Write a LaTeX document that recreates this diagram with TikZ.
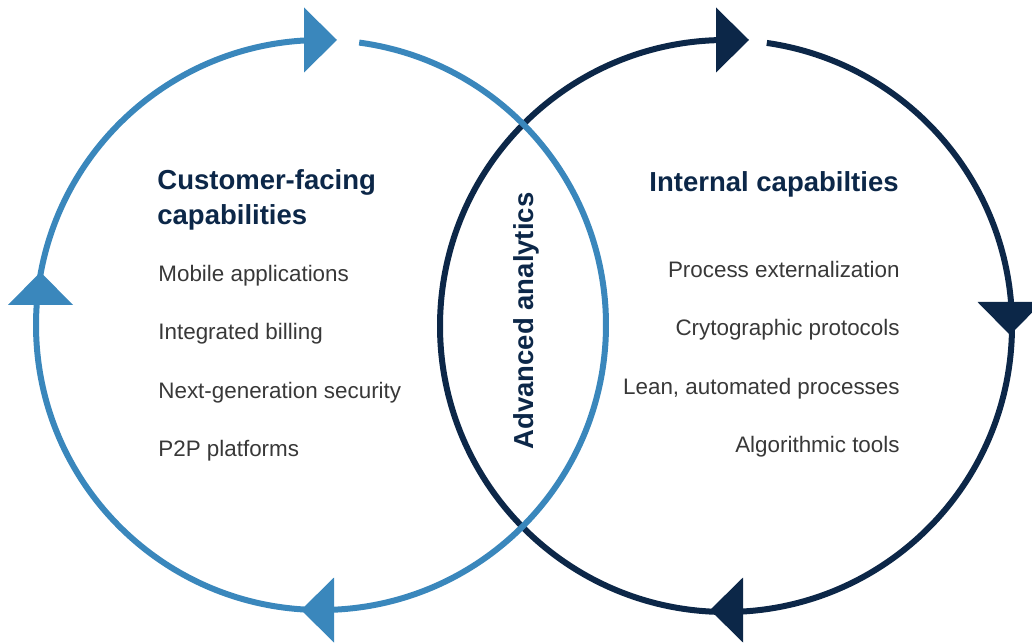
\documentclass[tikz,border=0pt]{standalone}
\usepackage{fontspec}
\setmainfont{Liberation Sans}

\definecolor{capblue}{HTML}{3A87BC}
\definecolor{capnavy}{HTML}{0C2748}
\definecolor{captext}{HTML}{383838}

\tikzset{
  flowtip/.pic={\fill (0,32.5) -- (33,0) -- (0,-32.5) -- cycle;},
  head/.style={font=\fontsize{13.75}{17.5}\selectfont\bfseries, text=capnavy, inner sep=0pt},
  item/.style={font=\fontsize{11.2}{13}\selectfont, text=captext, inner sep=0pt},
}

\begin{document}
\begin{tikzpicture}[x=0.5pt, y=0.5pt]
    \useasboundingbox (0,0) rectangle (1032,643);

    % Внутренний цикл
    \draw[capnavy, line width=3pt] (726,317) ++(88.5:286) arc[start angle=88.5, end angle=441.8, radius=286];

    % Клиентский цикл
    \draw[capblue, line width=3pt] (321,318) ++(89.5:285) arc[start angle=89.5, end angle=442.3, radius=285];

    % Стрелки
    \pic[capblue] at (304,603) {flowtip};
    \pic[capblue, rotate=90] at (40.5,338) {flowtip};
    \pic[capblue, rotate=180] at (334,33) {flowtip};
    \pic[capnavy] at (716,603) {flowtip};
    \pic[capnavy, rotate=-90] at (1010,341) {flowtip};
    \pic[capnavy, rotate=180] at (743,33) {flowtip};

    % Заголовки
    \node[head, align=left, anchor=base west] (cfhead) at (157,418) {Customer-facing\\capabilities};
    \node[head, anchor=base east] (ichead) at (899,451) {Internal capabilties};
    \node[head, rotate=90, anchor=base] (adv) at (533,322) {Advanced analytics};

    % Списки
    \node[item, anchor=base west] (cf1) at (158,361) {Mobile applications};
    \node[item, anchor=base west] (cf2) at (158,303) {Integrated billing};
    \node[item, anchor=base west] (cf3) at (158,245) {Next-generation security};
    \node[item, anchor=base west] (cf4) at (158,187) {P2P platforms};

    \node[item, anchor=base east] (ic1) at (900,365) {Process externalization};
    \node[item, anchor=base east] (ic2) at (900,307) {Crytographic protocols};
    \node[item, anchor=base east] (ic3) at (900,249) {Lean, automated processes};
    \node[item, anchor=base east] (ic4) at (900,191) {Algorithmic tools};
\end{tikzpicture}
\end{document}
